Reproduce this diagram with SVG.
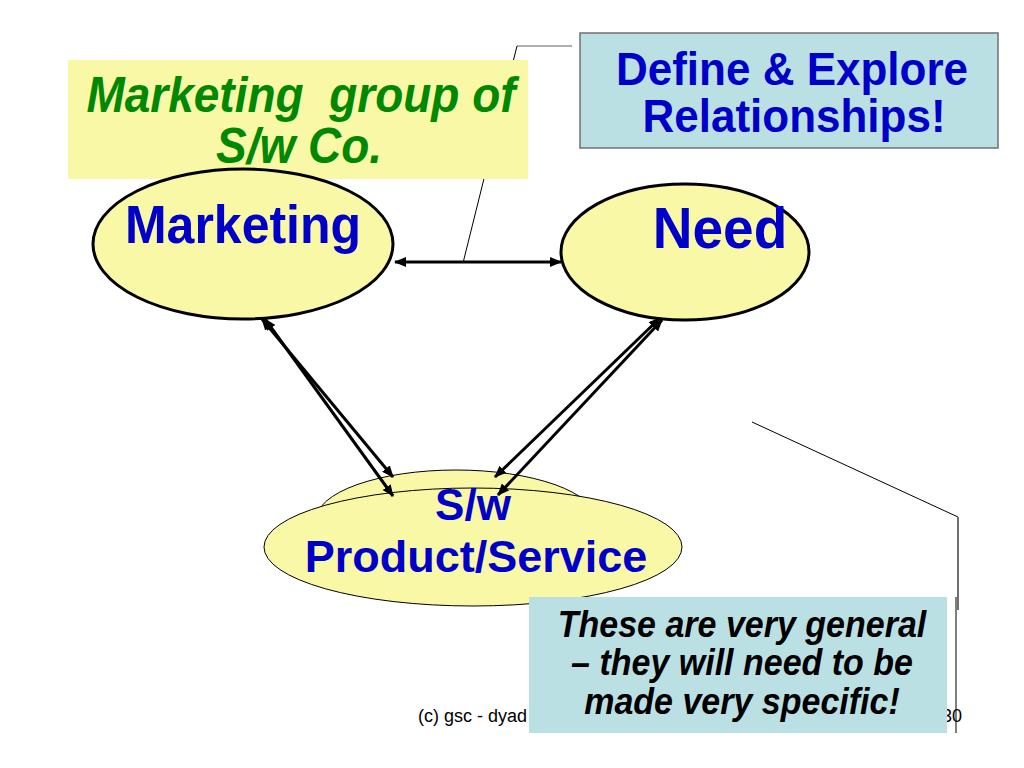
<svg xmlns="http://www.w3.org/2000/svg" width="1024" height="768" viewBox="0 0 1024 768">
  <defs>
    <marker id="ah" viewBox="0 0 12 10" refX="11" refY="5" markerWidth="12" markerHeight="10" markerUnits="userSpaceOnUse" orient="auto-start-reverse">
      <path d="M0,0 L12,5 L0,10 z" fill="#000"/>
    </marker>
    <style>
      .bold { font-family: "Liberation Sans", Arial, sans-serif; font-weight: bold; text-anchor: middle; }
      .blue { fill: #0000C8; }
      .green { fill: #008800; font-style: italic; font-size: 46px; }
      .dark { fill: #000; font-style: italic; font-size: 34px; }
      .yellow { fill: #F8F8A6; }
      .node { stroke: #000; stroke-width: 3; }
      .thin { stroke: #000; stroke-width: 1; }
      .arrow { stroke: #000; stroke-width: 3; fill: none; marker-start: url(#ah); marker-end: url(#ah); }
    </style>
  </defs>
  <rect width="1024" height="768" fill="#fff"/>

  <!-- callout lines -->
  <g id="callouts" fill="none">
    <line x1="517" y1="46" x2="572" y2="46" stroke="#606060" stroke-width="1.2"/>
    <line x1="517" y1="46" x2="463" y2="263" stroke="#000" stroke-width="1"/>
    <line x1="752" y1="422" x2="958" y2="517" stroke="#000" stroke-width="1"/>
    <line x1="958" y1="517" x2="958" y2="610" stroke="#707070" stroke-width="2"/>
    <line x1="956" y1="597" x2="956" y2="733" stroke="#000" stroke-width="1"/>
  </g>

  <!-- footer -->
  <g id="footer" font-family="Liberation Sans, Arial, sans-serif" font-size="18" fill="#000">
    <text x="418" y="722">(c) gsc - dyad</text>
    <text x="962" y="722" text-anchor="end">30</text>
  </g>

  <!-- note: Marketing group -->
  <g id="note-marketing-group">
    <rect x="68" y="60" width="460" height="119" class="yellow"/>
    <text class="bold green" transform="translate(301,112) scale(1,1.07)" xml:space="preserve">Marketing  group of</text>
    <text class="bold green" transform="translate(299,163) scale(1,1.07)">S/w Co.</text>
  </g>

  <!-- note: Define & Explore -->
  <g id="note-define">
    <rect x="580" y="33" width="418" height="115" fill="#BBE0E3" stroke="#707070" stroke-width="1.5"/>
    <text class="bold blue" font-size="44" transform="translate(792,85) scale(1,1.05)">Define &amp; Explore</text>
    <text class="bold blue" font-size="44" transform="translate(794,132) scale(1,1.05)">Relationships!</text>
  </g>

  <!-- Marketing node -->
  <g id="node-marketing">
    <ellipse cx="243" cy="244" rx="150" ry="75" class="yellow node"/>
    <text class="bold blue" font-size="50" transform="translate(243,243) scale(1,1.07)">Marketing</text>
  </g>

  <!-- Need node -->
  <g id="node-need">
    <ellipse cx="685" cy="252" rx="124" ry="68" class="yellow node"/>
    <text class="bold blue" font-size="55" transform="translate(720,248) scale(1,1.06)">Need</text>
  </g>

  <!-- S/w Product/Service node -->
  <g id="node-product">
    <ellipse cx="456" cy="520" rx="140" ry="50" class="yellow thin"/>
    <ellipse cx="473" cy="547" rx="209" ry="59" class="yellow thin"/>
    <text class="bold blue" font-size="44" x="473" y="520">S/w</text>
    <text class="bold blue" font-size="45" x="476" y="572">Product/Service</text>
  </g>

  <!-- connectors -->
  <g id="connectors">
    <line x1="395" y1="262" x2="561" y2="262" class="arrow"/>
    <line x1="262" y1="319" x2="393" y2="477" class="arrow"/>
    <line x1="265" y1="319" x2="393" y2="496" class="arrow"/>
    <line x1="660" y1="318" x2="495" y2="477" class="arrow"/>
    <line x1="662" y1="320" x2="498" y2="495" class="arrow"/>
  </g>

  <!-- note: These are very general -->
  <g id="note-general">
    <rect x="529" y="597" width="418" height="136" fill="#BBE0E3"/>
    <text class="bold dark" transform="translate(742,637) scale(1,1.1)">These are very general</text>
    <text class="bold dark" transform="translate(742,675) scale(1,1.1)">– they will need to be</text>
    <text class="bold dark" transform="translate(742,714) scale(1,1.1)">made very specific!</text>
  </g>
</svg>
